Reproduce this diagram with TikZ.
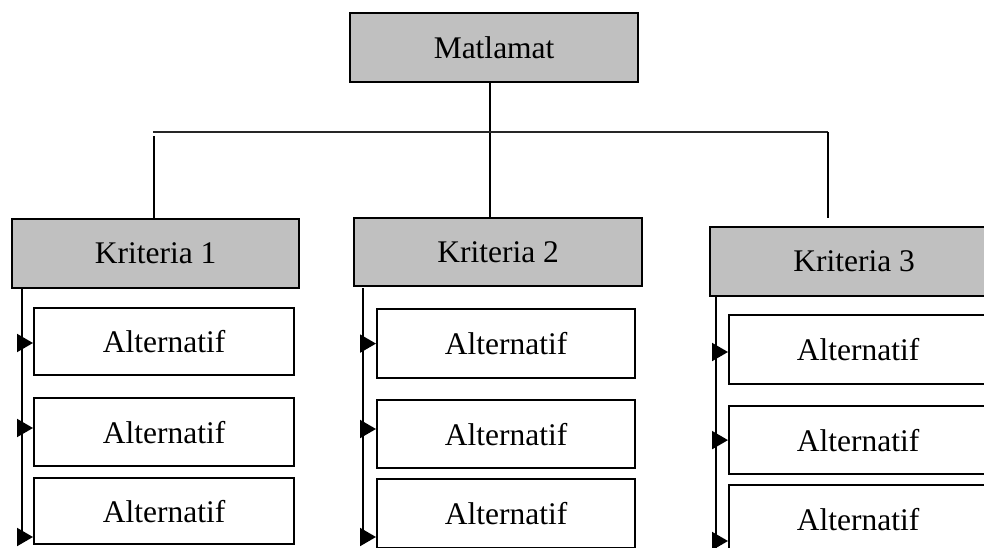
\documentclass[tikz,border=0pt]{standalone}
\usepackage{fontspec}
\setmainfont{Liberation Serif}
\usetikzlibrary{arrows.meta}
\definecolor{boxgray}{HTML}{C0C0C0}
\tikzset{
  base/.style={draw=black, line width=2.2pt, inner sep=0pt, anchor=north west,
    font=\fontsize{31.5}{36}\selectfont},
  goalbox/.style={base, fill=boxgray},
  critbox/.style={base, fill=boxgray},
  altbox/.style={base, fill=white},
  link/.style={line width=2.2pt, draw=black},
  toplink/.style={line width=1.4pt, draw=black!85},
  feed/.style={line width=2pt, -{Triangle[length=16pt,width=18pt]}},
}
\begin{document}
\begin{tikzpicture}[x=1pt,y=-1pt]
\useasboundingbox (0,0) rectangle (984,548);
\clip (0,0) rectangle (984,548);
\fill[white] (0,0) rectangle (984,548);

% goal
\node[goalbox, minimum width=288pt, minimum height=69pt] (m) at (349,12) {Matlamat};

% criteria
\node[critbox, minimum width=287pt, minimum height=69pt] (k1) at (11,218) {Kriteria 1};
\node[critbox, minimum width=288pt, minimum height=68pt] (k2) at (353,217) {Kriteria 2};
\node[critbox, minimum width=288pt, minimum height=69pt] (k3) at (709,226) {Kriteria 3};

% alternatives column 1
\node[altbox, minimum width=260pt, minimum height=67pt] (a11) at (33,307) {Alternatif};
\node[altbox, minimum width=260pt, minimum height=68pt] (a12) at (33,397) {Alternatif};
\node[altbox, minimum width=260pt, minimum height=66pt] (a13) at (33,477) {Alternatif};
% alternatives column 2
\node[altbox, minimum width=258pt, minimum height=69pt] (a21) at (376,308) {Alternatif};
\node[altbox, minimum width=258pt, minimum height=68pt] (a22) at (376,399) {Alternatif};
\node[altbox, minimum width=258pt, minimum height=69pt] (a23) at (376,478) {Alternatif};
% alternatives column 3
\node[altbox, minimum width=258pt, minimum height=69pt] (a31) at (728,314) {Alternatif};
\node[altbox, minimum width=258pt, minimum height=68pt] (a32) at (728,405) {Alternatif};
\node[altbox, minimum width=258pt, minimum height=69pt] (a33) at (728,484) {Alternatif};

% tree connectors
\coordinate (mx) at (490,0);
\coordinate (hl) at (153,132);
\coordinate (hr) at (828,132);
\coordinate (hlv) at (154,136);
\coordinate (hrv) at (828,218);
\draw[link] (m.south -| mx) -- (k2.north -| mx);
\draw[toplink] (hl) -- (hr);
\draw[link] (hlv) -- (k1.north -| hlv);
\draw[link] (hr) -- (hrv);

% column 1 feed line
\coordinate (v1t) at (22,287);
\coordinate (v1b) at (22,537);
\draw[link] (v1t) -- (v1b);
\draw[feed] (v1t |- 343,343) -- (a11.west |- 343,343);
\draw[feed] (v1t |- 428,428) -- (a12.west |- 428,428);
\draw[feed] (v1b) -- (v1b -| a13.west);

% column 2 feed line
\coordinate (v2t) at (363,288);
\coordinate (v2b) at (363,537);
\draw[link] (v2t) -- (v2b);
\draw[feed] (v2t |- a21.west) -- (a21.west);
\draw[feed] (v2t |- 429,429) -- (a22.west |- 429,429);
\draw[feed] (v2b) -- (v2b -| a23.west);

% column 3 feed line
\coordinate (v3t) at (716,295);
\coordinate (v3b) at (716,555);
\coordinate (v3e) at (716,541);
\draw[link] (v3t) -- (v3b);
\draw[feed] (v3t |- 352,352) -- (a31.west |- 352,352);
\draw[feed] (v3t |- a32.west) -- (a32.west);
\draw[feed] (v3e) -- (v3e -| a33.west);
\end{tikzpicture}
\end{document}
